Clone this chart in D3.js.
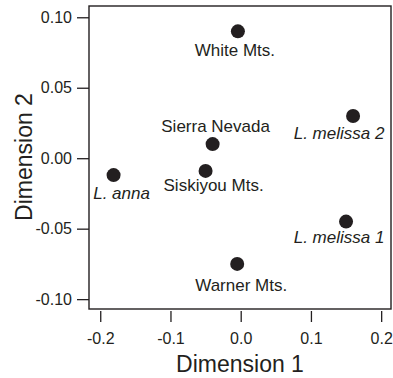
<!DOCTYPE html>
<html>
<head>
<meta charset="utf-8">
<script src="https://cdn.jsdelivr.net/npm/d3@7"></script>
<style>
  body { margin: 0; background: #fff; }
  text { font-family: "Liberation Sans", Arial, Helvetica, sans-serif; fill: #231f20; }
</style>
</head>
<body>
<div id="chart"></div>
<script>
// data
const names = ['White Mts.', 'L. melissa 2', 'Sierra Nevada', 'Siskiyou Mts.', 'L. anna', 'L. melissa 1', 'Warner Mts.'];
const dim1 = [-0.004, 0.160, -0.040, -0.050, -0.181, 0.150, -0.005];
const dim2 = [0.090, 0.030, 0.010, -0.009, -0.012, -0.045, -0.075];
const italicNames = ['L. melissa 2', 'L. anna', 'L. melissa 1'];
const xTicks = [-0.2, -0.1, 0.0, 0.1, 0.2];
const yTicks = [0.10, 0.05, 0.00, -0.05, -0.10];

// label placement relative to the dot (dx to text centre, dy to baseline)
const labelPos = {
  'White Mts.': [-3, 25],
  'L. melissa 2': [-14, 23],
  'Sierra Nevada': [3, -12],
  'Siskiyou Mts.': [8, 20],
  'L. anna': [8, 24],
  'L. melissa 1': [-7, 21],
  'Warner Mts.': [4, 27]
};

const W = 393, H = 378;
const frame = {left: 89, right: 391, top: 6, bottom: 309};
const ink = '#231f20';

const svg = d3.select('#chart').append('svg')
  .attr('width', W)
  .attr('height', H);

const x = d3.scaleLinear().domain([-0.216, 0.214]).range([frame.left, frame.right]);
const y = d3.scaleLinear().domain([-0.107, 0.108]).range([frame.bottom, frame.top]);

// frame
svg.append('rect')
  .attr('x', frame.left)
  .attr('y', frame.top)
  .attr('width', frame.right - frame.left)
  .attr('height', frame.bottom - frame.top)
  .attr('fill', 'none')
  .attr('stroke', ink)
  .attr('stroke-width', 1.4);

// x axis
const xAxis = d3.axisBottom(x)
  .tickValues(xTicks)
  .tickSize(11)
  .tickPadding(11)
  .tickFormat(d => d.toFixed(1));

const gx = svg.append('g')
  .attr('transform', `translate(0,${frame.bottom + 2})`)
  .call(xAxis);
gx.select('.domain').remove();
gx.selectAll('line').attr('stroke', ink).attr('stroke-width', 1.3);
gx.selectAll('text').style('font-size', '16px').attr('fill', ink);

// y axis
const yAxis = d3.axisLeft(y)
  .tickValues(yTicks)
  .tickSize(12)
  .tickPadding(5)
  .tickFormat(d => d.toFixed(2));

const gy = svg.append('g')
  .attr('transform', `translate(${frame.left},0)`)
  .call(yAxis);
gy.select('.domain').remove();
gy.selectAll('line').attr('stroke', ink).attr('stroke-width', 1.3);
gy.selectAll('text').style('font-size', '16px').attr('fill', ink);

// axis titles
svg.append('text')
  .attr('x', 240)
  .attr('y', 372)
  .attr('text-anchor', 'middle')
  .style('font-size', '23px')
  .text('Dimension 1');

svg.append('text')
  .attr('transform', 'translate(32,157) rotate(-90)')
  .attr('text-anchor', 'middle')
  .style('font-size', '23px')
  .text('Dimension 2');

// points
const pts = names.map((n, i) => ({name: n, d1: dim1[i], d2: dim2[i]}));

svg.append('g').selectAll('circle')
  .data(pts)
  .enter()
  .append('circle')
  .attr('cx', d => x(d.d1))
  .attr('cy', d => y(d.d2))
  .attr('r', 7)
  .attr('fill', ink);

svg.append('g').selectAll('text')
  .data(pts)
  .enter()
  .append('text')
  .attr('x', d => x(d.d1) + labelPos[d.name][0])
  .attr('y', d => y(d.d2) + labelPos[d.name][1])
  .attr('text-anchor', 'middle')
  .style('font-size', '17px')
  .style('font-style', d => italicNames.includes(d.name) ? 'italic' : 'normal')
  .text(d => d.name);
</script>
</body>
</html>
